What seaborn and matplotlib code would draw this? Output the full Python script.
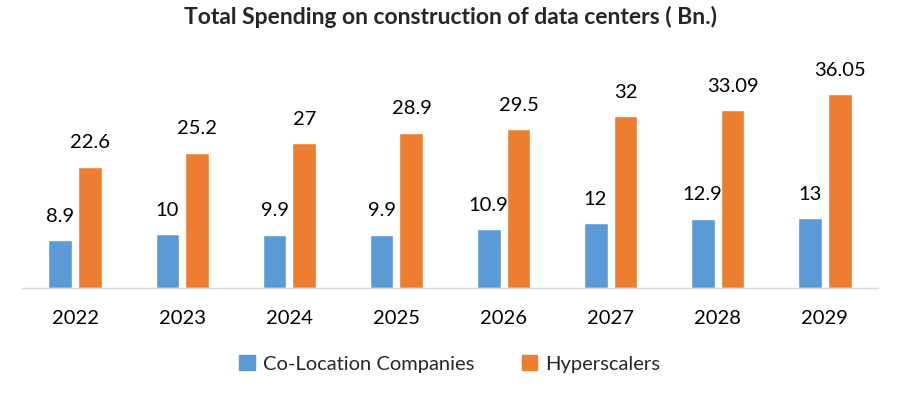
import pandas as pd
import matplotlib.pyplot as plt
import seaborn as sns

years = ['2022', '2023', '2024', '2025', '2026', '2027', '2028', '2029']
colocation = [8.9, 10, 9.9, 9.9, 10.9, 12, 12.9, 13]
hyperscalers = [22.6, 25.2, 27, 28.9, 29.5, 32, 33.09, 36.05]
series_names = ['Co-Location Companies', 'Hyperscalers']
colors = ['#5B9BD5', '#ED7D31']

df = pd.DataFrame({
    'year': years * 2,
    'value': colocation + hyperscalers,
    'series': [series_names[0]] * len(years) + [series_names[1]] * len(years),
})

sns.set_style('white')
plt.rcParams['font.family'] = ['Lato', 'DejaVu Sans']

fig = plt.figure(figsize=(9, 3.97), dpi=100)
ax = fig.add_axes([0.0244, 0.2746, 0.9512, 0.5416])

sns.barplot(data=df, x='year', y='value', hue='series', hue_order=series_names,
            palette=colors, width=0.56, gap=0.2, saturation=1, ax=ax, legend=False)

# value labels above the bars
for cont in ax.containers:
    ax.bar_label(cont, fmt='%g', padding=11, fontsize=14.5, color='#000000')

ax.set_xlim(-0.5, 7.5)
ax.set_ylim(0, 40)
ax.set_xlabel('')
ax.set_ylabel('')
ax.set_yticks([])
ax.tick_params(axis='x', length=0, pad=16, labelsize=14.5, colors='#000000')
for side in ['left', 'right', 'top']:
    ax.spines[side].set_visible(False)
ax.spines['bottom'].set_color('#D9D9D9')
ax.spines['bottom'].set_linewidth(1)

fig.suptitle('Total Spending on construction of data centers ( Bn.)',
             x=0.5, y=0.985, fontsize=16.5, fontweight='bold')

handles = [plt.Rectangle((0, 0), 1, 1, color=c) for c in colors]
fig.legend(handles, series_names, loc='center', bbox_to_anchor=(0.5, 1 - 364 / 397),
           ncol=2, frameon=False, fontsize=14.5, handlelength=0.75, handleheight=0.75,
           handletextpad=0.4, columnspacing=2.4)

plt.savefig('out.png', dpi=100)
plt.close()
